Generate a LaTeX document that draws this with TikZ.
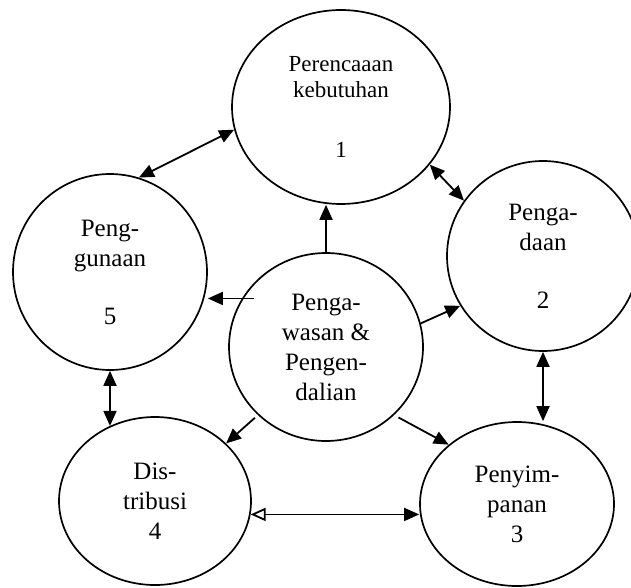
\documentclass[tikz,border=0pt]{standalone}
\usepackage{fontspec}
\setmainfont{Liberation Serif}
\usetikzlibrary{arrows.meta,shapes.geometric}

\begin{document}
\begin{tikzpicture}[x=1pt, y=-1pt,
        proc/.style={draw, ellipse, line width=1.7pt, inner sep=0pt, align=center, font=\fontsize{25}{30}\selectfont},
        link/.style={line width=1.8pt, -{Triangle[length=15pt,width=13pt]}},
        both/.style={line width=1.8pt, {Triangle[length=15pt,width=13pt]}-{Triangle[length=15pt,width=13pt]}}]
        \useasboundingbox (0,0) rectangle (631,588);

        \node[proc, minimum width=218pt, minimum height=194pt, font=\fontsize{23}{26}\selectfont] (c1) at (341,107) {Perencaaan\\kebutuhan\\[34pt]1};
        \node[proc, minimum width=192pt, minimum height=190pt] (c2) at (543,256) {Penga-\\daan\\[28pt]2};
        \node[proc, minimum width=194pt, minimum height=164pt] (c3) at (517,504) {Penyim-\\panan\\3};
        \node[proc, minimum width=192pt, minimum height=168pt] (c4) at (155,501) {Dis-\\tribusi\\4};
        \node[proc, minimum width=194pt, minimum height=196pt] (c5) at (110,272) {Peng-\\gunaan\\[28pt]5};
        \node[proc, minimum width=194pt, minimum height=188pt] (cc) at (326,347) {Penga-\\wasan \&\\Pengen-\\dalian};

        \draw[both] (c5.73) -- (c1.192);
        \draw[both] (c1.-33) -- (c2.145);
        \draw[both] (c2.south) -- (c2.south |- c3.north);
        \draw[line width=1.8pt, {Triangle[open,length=15pt,width=13pt]}-{Triangle[length=15pt,width=13pt]}] (c4.-8) -- (c4.-8 -| c3.west);
        \draw[both] (c5.south) -- (c5.south |- c4.121);

        \draw[link] (cc.north) -- (cc.north |- c1.south);
        \draw[link] (cc.14) -- (c2.211);
        \draw[link, shorten <=5pt] (cc.-45) -- (c3.139);
        \draw[link, shorten <=4pt] (cc.225) -- (c4.39);
        \draw[link, shorten <=-12pt] (cc.150) -- (cc.150 -| c5.east);
    \end{tikzpicture}
\end{document}
